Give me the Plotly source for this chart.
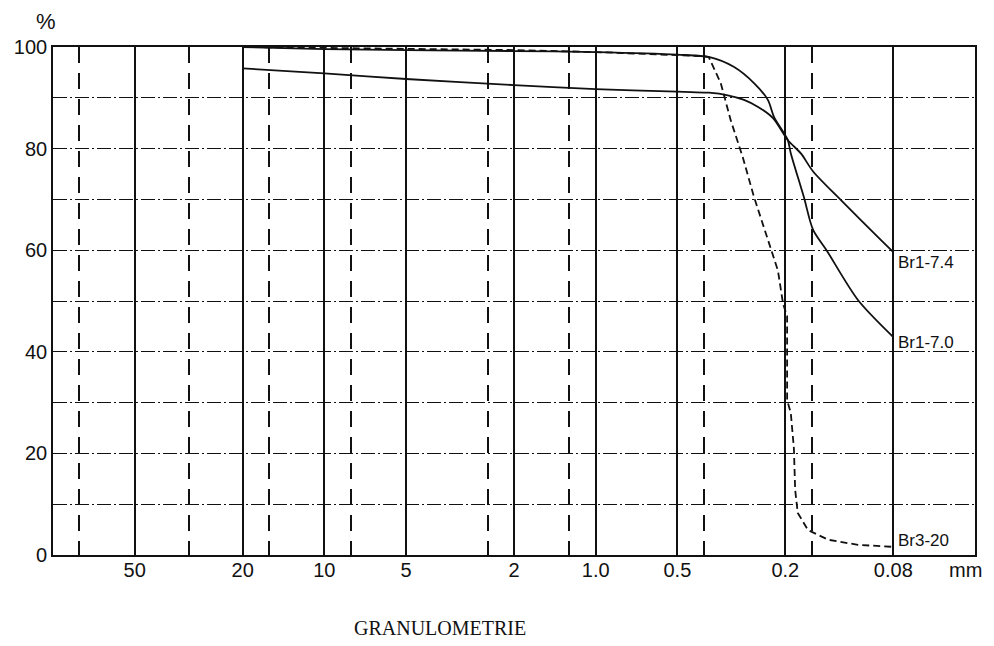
import numpy as np
import plotly.graph_objects as go

# ---------------- data ----------------
br1_70_mm = [20, 10, 5, 2, 1.0, 0.5, 0.38, 0.31, 0.261, 0.232, 0.22, 0.196, 0.191,
             0.171, 0.158, 0.141, 0.108, 0.08]
br1_70_pct = [100, 99.6, 99.4, 99.2, 99.0, 98.5, 98.0, 96.1, 92.9, 89.6, 86.2, 81.7, 79.1,
              70.5, 64.0, 60.0, 50.2, 42.9]

br1_74_mm = [20, 10, 5, 2, 1.0, 0.5, 0.446, 0.383, 0.326, 0.284, 0.252, 0.222, 0.196,
             0.175, 0.158, 0.125, 0.0888, 0.08]
br1_74_pct = [95.8, 94.8, 93.7, 92.5, 91.7, 91.2, 91.1, 91.0, 90.5, 89.6, 88.2, 86.0, 81.7,
              79.0, 75.5, 69.9, 62.0, 59.6]

br3_20_mm = [20, 5, 2, 1.0, 0.5, 0.4, 0.383, 0.346, 0.318, 0.287, 0.261, 0.236, 0.213,
             0.204, 0.197, 0.197, 0.191, 0.186, 0.184, 0.180, 0.165, 0.139, 0.108, 0.08]
br3_20_pct = [100, 99.6, 99.4, 99.0, 98.4, 98.2, 98.0, 92.9, 85.6, 78.3, 70.5, 63.4, 56.0,
              49.5, 47.0, 30.5, 28.0, 21.0, 12.8, 8.3, 4.9, 3.0, 2.0, 1.6]

series_names = ["Br1-7.4", "Br1-7.0", "Br3-20"]

x_tick_vals = [50, 20, 10, 5, 2, 1.0, 0.5, 0.2, 0.08]
x_tick_text = ["50", "20", "10", "5", "2", "1.0", "0.5", "0.2", "0.08"]
sieve_vals = [80, 31.5, 16, 8, 2.5, 1.25, 0.4, 0.16]
y_tick_vals = [0, 20, 40, 60, 80, 100]
y_minor_vals = [10, 30, 50, 70, 90]
x_min_mm, x_max_mm = 0.04, 100

FONT = "Liberation Sans Narrow, Arial Narrow, Liberation Sans, Arial, sans-serif"
BLACK = "#111111"

fig = go.Figure()
fig.add_trace(go.Scatter(x=br1_74_mm, y=br1_74_pct, mode="lines", name=series_names[0],
                         line=dict(color=BLACK, width=1.8, shape="spline", smoothing=0.8)))
fig.add_trace(go.Scatter(x=br1_70_mm, y=br1_70_pct, mode="lines", name=series_names[1],
                         line=dict(color=BLACK, width=1.8, shape="spline", smoothing=0.8)))
fig.add_trace(go.Scatter(x=br3_20_mm, y=br3_20_pct, mode="lines", name=series_names[2],
                         line=dict(color=BLACK, width=1.8, dash="7px,4px")))

# curve labels at the end of each series
for xs, ys, name, ysh in [(br1_74_mm, br1_74_pct, series_names[0], -10),
                          (br1_70_mm, br1_70_pct, series_names[1], -5),
                          (br3_20_mm, br3_20_pct, series_names[2], 6)]:
    fig.add_annotation(x=np.log10(xs[-1]), y=ys[-1], xref="x", yref="y", text=name,
                       showarrow=False, xanchor="left", yanchor="middle", xshift=3, yshift=ysh,
                       font=dict(family=FONT, size=17, color=BLACK))

fig.add_annotation(x=0.99, y=-0.03, xref="paper", yref="paper", text="mm", showarrow=False,
                   xanchor="center", yanchor="middle", font=dict(family=FONT, size=20, color=BLACK))
fig.add_annotation(x=-0.008, y=1.051, xref="paper", yref="paper", text="%", showarrow=False,
                   xanchor="center", yanchor="middle", font=dict(family=FONT, size=22, color=BLACK))
fig.add_annotation(x=0.42, y=-0.144, xref="paper", yref="paper", text="GRANULOMETRIE",
                   showarrow=False, xanchor="center", yanchor="middle",
                   font=dict(family="Liberation Serif, Times New Roman, serif", size=20, color=BLACK))

# the page body adds an 8px margin, so the figure is made 8px smaller on each offset side
fig.update_layout(
    width=986, height=638,
    margin=dict(l=45, r=19, t=39, b=91, autoexpand=False),
    paper_bgcolor="white", plot_bgcolor="white",
    showlegend=False,
    xaxis=dict(
        type="log", range=[np.log10(x_max_mm), np.log10(x_min_mm)], automargin=False,
        tickmode="array", tickvals=x_tick_vals, ticktext=x_tick_text,
        ticks="", showgrid=True, gridcolor=BLACK, gridwidth=1.8,
        showline=True, linecolor=BLACK, linewidth=1.6, mirror=True, zeroline=False,
        tickfont=dict(family=FONT, size=20, color=BLACK), ticklabelstandoff=-4,
        minor=dict(tickmode="array", tickvals=sieve_vals, showgrid=True, gridcolor=BLACK,
                   gridwidth=1.8, griddash="16px,10px", ticks=""),
    ),
    yaxis=dict(
        range=[0, 100], tickmode="array", tickvals=y_tick_vals, automargin=False,
        ticks="", showgrid=True, gridcolor=BLACK, gridwidth=1, griddash="14px,3px,2px,3px",
        showline=True, linecolor=BLACK, linewidth=1.6, mirror=True, zeroline=False,
        tickfont=dict(family=FONT, size=20, color=BLACK), ticklabelstandoff=0,
        minor=dict(tickmode="array", tickvals=y_minor_vals, showgrid=True, gridcolor=BLACK,
                   gridwidth=1, griddash="14px,3px,2px,3px", ticks=""),
    ),
)

fig.write_html("out.html")
